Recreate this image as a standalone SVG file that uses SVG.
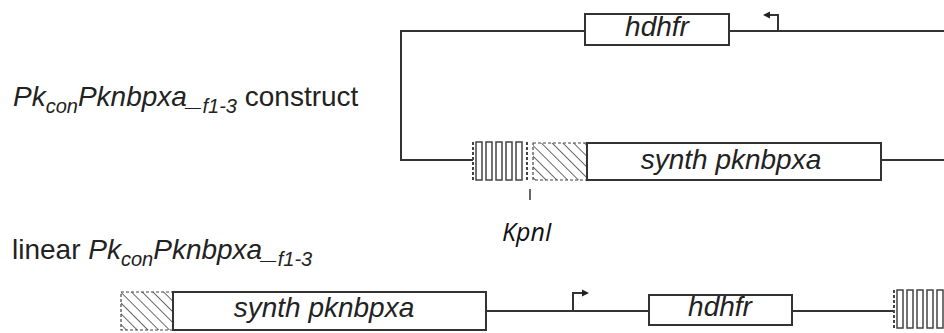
<svg xmlns="http://www.w3.org/2000/svg" width="944" height="333" viewBox="0 0 944 333">
<style>
.ln{fill:none;stroke:#333;stroke-width:2}
.box{fill:#fff;stroke:#333;stroke-width:2}
.lbl{font-family:"Liberation Sans",Arial,sans-serif;font-size:28px;font-style:italic;fill:#222;text-anchor:middle}
.ttl{font-family:"Liberation Sans",Arial,sans-serif;font-size:28px;fill:#222}
.it{font-style:italic}
.sub{font-style:italic;font-size:20px}
.dash{fill:none;stroke:#444;stroke-width:2;stroke-dasharray:3 2}
.bar{fill:#fff;stroke:#444;stroke-width:1.5}
.arr{fill:#222}
</style>
<defs>
<pattern id="hatch" patternUnits="userSpaceOnUse" width="7.6" height="7.6" patternTransform="rotate(-45)">
<line x1="0" y1="0" x2="0" y2="7.6" stroke="#444" stroke-width="1.6"/>
</pattern>
</defs>
<rect width="944" height="333" fill="#fff"/>

<g id="title-construct">
<text class="ttl" x="13" y="106"><tspan class="it">Pk</tspan><tspan class="sub" dy="7">con</tspan><tspan class="it" dy="-7">Pknbpxa_</tspan><tspan class="sub" dy="7">f1-3</tspan><tspan dy="-7"> construct</tspan></text>
</g>
<g id="title-linear">
<text class="ttl" x="12" y="259">linear <tspan class="it">Pk</tspan><tspan class="sub" dy="7">con</tspan><tspan class="it" dy="-7">Pknbpxa_</tspan><tspan class="sub" dy="7">f1-3</tspan></text>
</g>

<g id="connectors">
<path class="ln" d="M585,31 H401 V160 H473"/>
<path class="ln" d="M729,31 H944"/>
<path class="ln" d="M881,160 H944"/>
<path class="ln" d="M778,31 V15 H769"/>
<polygon class="arr" points="763,15 770,11.5 770,18.5"/>
<path class="ln" d="M530,189 V200" style="stroke-width:1.5"/>
<path class="ln" d="M486,311 H649"/>
<path class="ln" d="M792,311 H894"/>
<path class="ln" d="M573,311 V293 H583"/>
<polygon class="arr" points="589,293 582,289.5 582,296.5"/>
</g>

<g id="top-hdhfr">
<rect class="box" x="585" y="14" width="144" height="31"/>
<text class="lbl" x="657" y="36">hdhfr</text>
</g>

<g id="top-stripes">
<line class="dash" x1="473" y1="142" x2="473" y2="180"/>
<rect class="bar" x="476" y="142" width="6" height="38"/>
<rect class="bar" x="486" y="142" width="6" height="38"/>
<rect class="bar" x="496" y="142" width="6" height="38"/>
<rect class="bar" x="506" y="142" width="6" height="38"/>
<rect class="bar" x="516" y="142" width="6" height="38"/>
<line class="dash" x1="527" y1="142" x2="527" y2="180"/>
</g>

<g id="top-hatch">
<rect x="533" y="143" width="54" height="37" fill="url(#hatch)"/>
<rect class="dash" x="533" y="143" width="54" height="37" style="stroke-width:1.2"/>
</g>

<g id="top-synth">
<rect class="box" x="587" y="143" width="294" height="37"/>
<text class="lbl" x="731" y="169">synth pknbpxa</text>
</g>

<g id="kpni">
<text x="502" y="241" style="font-family:'Open Sans',sans-serif;font-size:25px;font-style:italic;fill:#111">KpnI</text>
</g>

<g id="bottom-hatch">
<rect x="121" y="292" width="52" height="38" fill="url(#hatch)"/>
<rect class="dash" x="121" y="292" width="52" height="38" style="stroke-width:1.2"/>
</g>

<g id="bottom-synth">
<rect class="box" x="173" y="292" width="313" height="38"/>
<text class="lbl" x="324" y="317">synth pknbpxa</text>
</g>

<g id="bottom-hdhfr">
<rect class="box" x="649" y="295" width="143" height="30"/>
<text class="lbl" x="720" y="316">hdhfr</text>
</g>

<g id="bottom-stripes">
<line class="dash" x1="894" y1="290" x2="894" y2="328"/>
<rect class="bar" x="897" y="290" width="6" height="38"/>
<rect class="bar" x="907" y="290" width="6" height="38"/>
<rect class="bar" x="917" y="290" width="6" height="38"/>
<rect class="bar" x="927" y="290" width="6" height="38"/>
<rect class="bar" x="937" y="290" width="6" height="38"/>
</g>
</svg>
